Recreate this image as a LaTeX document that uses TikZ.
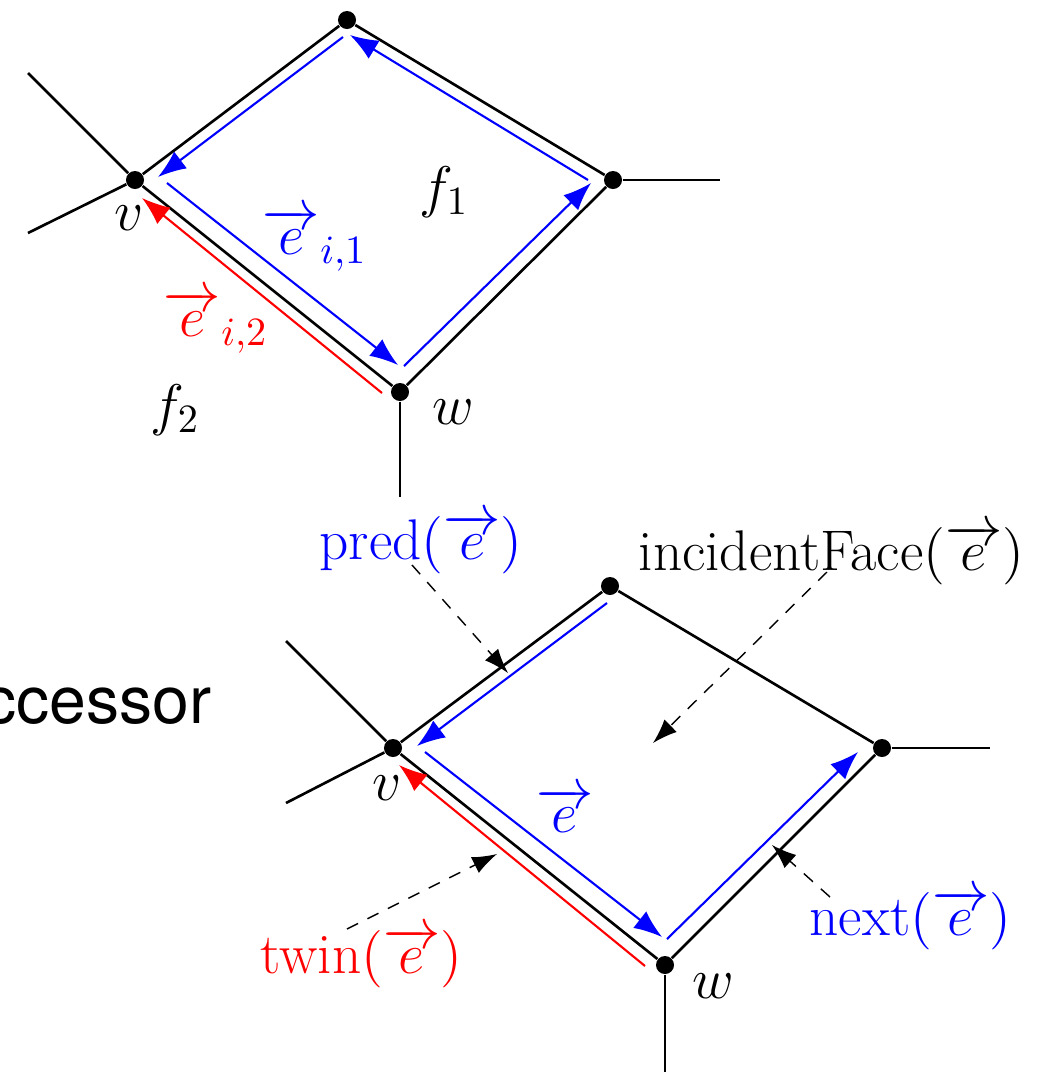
\documentclass[tikz,border=0pt]{standalone}
\usepackage{fix-cm}
\usepackage{amsmath,amssymb}
\usepackage{fontspec}
\newfontfamily\helv{TeX Gyre Heros}
\usepackage{tikz}
\usetikzlibrary{arrows.meta,calc}
\definecolor{hblue}{RGB}{0,0,255}
\definecolor{hred}{RGB}{255,0,0}
\tikzset{
  dot/.style={circle,fill=black,minimum size=1.8mm,inner sep=0},
  edg/.style={line width=0.75pt},
  he/.style={line width=0.6pt,-{Latex[length=8pt,width=6pt]}},
  ptr/.style={line width=0.4pt,dash pattern=on 3.5pt off 3pt,-{Latex[length=7pt,width=5pt]}},
  lbl/.style={inner sep=0,font=\fontsize{16.3}{19}\selectfont}
}

\begin{document}
\begin{tikzpicture}[x=0.01cm,y=-0.01cm]
\useasboundingbox (0,0) rectangle (1050,1072);
% upper pair of faces
\node[dot] (t1) at (347,20) {};
\node[dot] (v1) at (135,180) {};
\node[dot] (r1) at (613,180) {};
\node[dot] (w1) at (400,392) {};
\coordinate (a1) at (28,73);
\coordinate (b1) at (28,233);
\coordinate (c1) at (720,180);
\coordinate (d1) at (400,497);
\foreach \x/\y in {t1/v1,t1/r1,r1/w1,v1/w1,v1/a1,v1/b1,r1/c1,w1/d1} \draw[edg] (\x) -- (\y);
\coordinate (p1) at (343,37);  \coordinate (q1) at (158,177);
\coordinate (p2) at (167,183); \coordinate (q2) at (398,365);
\coordinate (p3) at (404,366); \coordinate (q3) at (591,183);
\coordinate (p4) at (588,180); \coordinate (q4) at (350,35);
\coordinate (p5) at (382,393); \coordinate (q5) at (142,198);
\foreach \x/\y in {p1/q1,p2/q2,p3/q3,p4/q4} \draw[he,hblue] (\x) -- (\y);
\draw[he,hred] (p5) -- (q5);
\node[lbl] (f1) at (444,192) {$f_1$};
\node[lbl] (f2) at (175,410) {$f_2$};
\node[lbl] (lv1) at (129,218) {$v$};
\node[lbl] (lw1) at (453,412) {$w$};
\node[lbl,text=hblue] (ei1) at (315,240) {$\overrightarrow{e}_{i,1}$};
\node[lbl,text=hred] (ei2) at (216,322) {$\overrightarrow{e}_{i,2}$};
% lower face with its pointers
\node[dot] (t2) at (610,586) {};
\node[dot] (v2) at (393,748) {};
\node[dot] (r2) at (882,748) {};
\node[dot] (w2) at (665,965) {};
\coordinate (a2) at (286,641);
\coordinate (b2) at (286,803);
\coordinate (c2) at (990,748);
\coordinate (d2) at (665,1076);
\foreach \x/\y in {t2/v2,t2/r2,r2/w2,v2/w2,v2/a2,v2/b2,r2/c2,w2/d2} \draw[edg] (\x) -- (\y);
\coordinate (p6) at (607,603); \coordinate (q6) at (417,746);
\coordinate (p7) at (425,752); \coordinate (q7) at (662,937);
\coordinate (p8) at (667,939); \coordinate (q8) at (858,752);
\coordinate (p9) at (645,966); \coordinate (q9) at (399,765);
\foreach \x/\y in {p6/q6,p7/q7,p8/q8} \draw[he,hblue] (\x) -- (\y);
\draw[he,hred] (p9) -- (q9);
\node[lbl] (lv2) at (387,788) {$v$};
\node[lbl] (lw2) at (713,986) {$w$};
\node[lbl,text=hblue] (le) at (565,810) {$\overrightarrow{e}$};
\node[lbl,text=hblue,anchor=base west] (lpred) at (319,559) {pred$(\overrightarrow{e})$};
\node[lbl,anchor=base west] (lface) at (638,570) {incidentFace$(\overrightarrow{e})$};
\node[lbl,text=hred,anchor=base west] (ltwin) at (260,973) {twin$(\overrightarrow{e})$};
\node[lbl,text=hblue,anchor=base west] (lnext) at (809,935) {next$(\overrightarrow{e})$};
\node[inner sep=0,anchor=base west,font=\helv\fontsize{18.8}{22}\selectfont] (lsucc) at (-17,723) {ccessor};
\coordinate (m1) at (412,565); \coordinate (n1) at (508,673);
\coordinate (m2) at (827,572); \coordinate (n2) at (653,743);
\coordinate (m3) at (347,929); \coordinate (n3) at (497,854);
\coordinate (m4) at (830,897); \coordinate (n4) at (772,845);
\foreach \x/\y in {m1/n1,m2/n2,m3/n3,m4/n4} \draw[ptr] (\x) -- (\y);
\end{tikzpicture}
\end{document}
